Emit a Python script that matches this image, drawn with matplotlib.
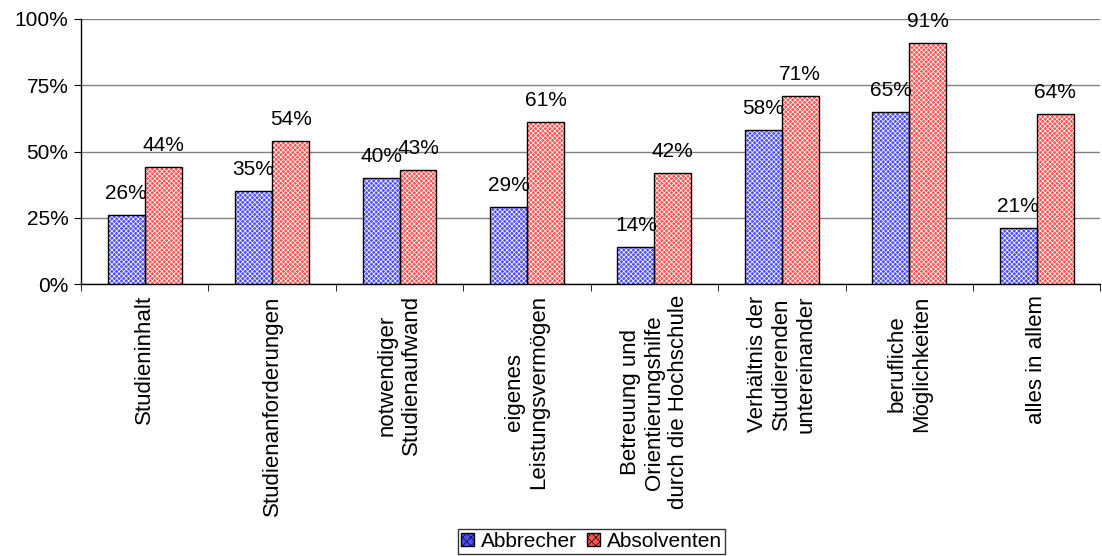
import numpy as np
import matplotlib
matplotlib.use("Agg")
import matplotlib.pyplot as plt
from matplotlib.ticker import FixedLocator, PercentFormatter
from matplotlib.patches import Patch

plt.rcParams["font.family"] = ["Liberation Sans", "DejaVu Sans"]
plt.rcParams["hatch.linewidth"] = 0.5

categories = ["Studieninhalt", "Studienanforderungen", "notwendiger\nStudienaufwand",
              "eigenes\nLeistungsvermögen", "Betreuung und\nOrientierungshilfe\ndurch die Hochschule",
              "Verhältnis der\nStudierenden\nuntereinander", "berufliche\nMöglichkeiten", "alles in allem"]
abbrecher = [26, 35, 40, 29, 14, 58, 65, 21]
absolventen = [44, 54, 43, 61, 42, 71, 91, 64]

blue = "#5050ff"
red = "#ff5555"
hatch = "xxxxxxx"

fig = plt.figure(figsize=(11.02, 5.56), dpi=100)
ax = fig.add_axes([0.0735, 0.489, 0.925, 0.477])

x = np.arange(len(categories))
w = 0.29
# hatched fill with white hatch lines, black outline drawn on top
ax.bar(x - w / 2, abbrecher, w, color=blue, edgecolor="white", linewidth=0, hatch=hatch, zorder=3)
ax.bar(x + w / 2, absolventen, w, color=red, edgecolor="white", linewidth=0, hatch=hatch, zorder=3)
b1 = ax.bar(x - w / 2, abbrecher, w, fill=False, edgecolor="black", linewidth=1.0, zorder=4)
b2 = ax.bar(x + w / 2, absolventen, w, fill=False, edgecolor="black", linewidth=1.0, zorder=4)

for bars, vals in ((b1, abbrecher), (b2, absolventen)):
    for r, v in zip(bars, vals):
        ax.text(r.get_x() + r.get_width() / 2, v + 4.5, f"{v}%", ha="center", va="bottom",
                fontsize=15, zorder=5)

ax.set_xlim(-0.5, len(categories) - 0.5)
ax.set_ylim(0, 100)
ax.set_yticks([0, 25, 50, 75, 100])
ax.yaxis.set_major_formatter(PercentFormatter(decimals=0))
ax.grid(axis="y", color="#808080", linewidth=1.0, zorder=0)

ax.set_xticks(x)
ax.set_xticklabels(categories, rotation=90, fontsize=16, ha="center", va="top",
                   multialignment="center", linespacing=1.2)
ax.tick_params(axis="x", length=0, pad=8)
ax.xaxis.set_minor_locator(FixedLocator(np.arange(-0.5, len(categories), 1.0)))
ax.tick_params(axis="x", which="minor", length=5, direction="out", color="black")
ax.tick_params(axis="y", length=5, direction="out", labelsize=15, pad=4)

for s in ("top", "right"):
    ax.spines[s].set_visible(False)
ax.spines["left"].set_linewidth(1.0)
ax.spines["bottom"].set_linewidth(1.0)

handles = [Patch(facecolor=blue, edgecolor="black", hatch="xxxx", linewidth=1.0),
           Patch(facecolor=red, edgecolor="black", hatch="xxxx", linewidth=1.0)]
leg = fig.legend(handles=handles, labels=["Abbrecher", "Absolventen"], loc="lower center",
                 bbox_to_anchor=(0.537, 0.0), ncol=2,
                 fontsize=15, frameon=True, fancybox=False, edgecolor="black",
                 handlelength=0.6, handleheight=0.6, handletextpad=0.35, columnspacing=0.5,
                 borderpad=0.15, borderaxespad=0.1)
leg.get_frame().set_linewidth(1.0)

fig.savefig("out.png", dpi=100)
